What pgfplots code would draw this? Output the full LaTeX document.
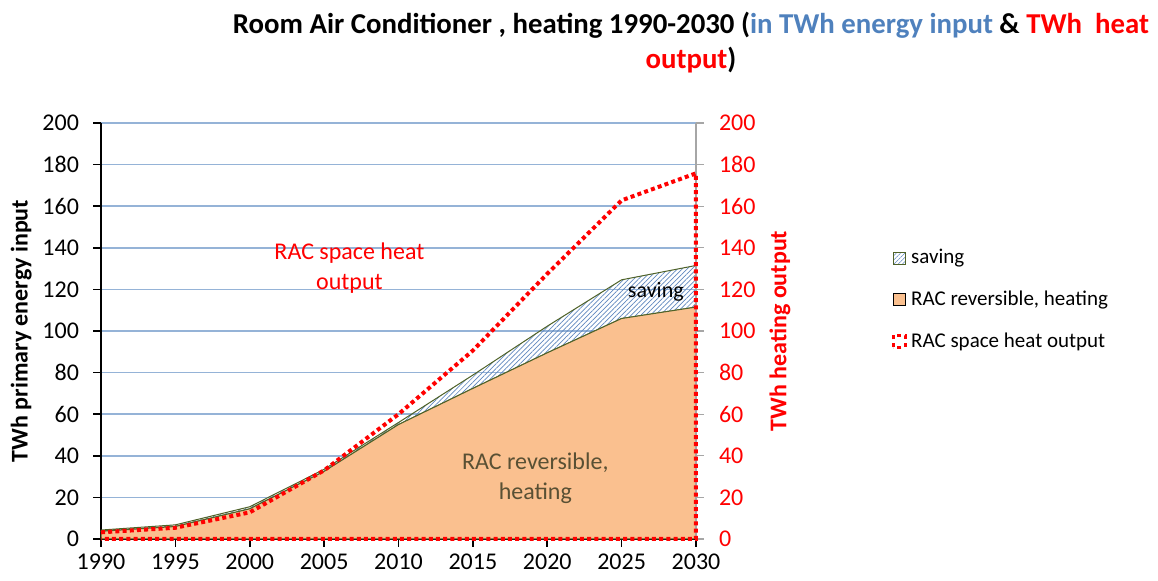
\documentclass[border=0pt]{standalone}
\usepackage{fontspec}
\setmainfont{Carlito}
\usepackage{pgfplots}
\pgfplotsset{compat=1.18}
\usetikzlibrary{patterns.meta}
\definecolor{heatfill}{RGB}{250,192,143}
\definecolor{olivedraw}{RGB}{79,98,40}
\definecolor{hatchblue}{RGB}{95,135,190}
\definecolor{gridblue}{RGB}{149,179,215}
\definecolor{titleblue}{RGB}{79,129,189}
\definecolor{labelolive}{RGB}{89,80,52}
\definecolor{heatred}{RGB}{255,0,0}

\pgfplotstableread{
year heat save out
1990 3.7   0.6  3.2
1995 6.0   0.8  5.4
2000 14.5  1.0  12.8
2005 32.5  1.0  33.0
2010 55.0  1.0  60.0
2015 72.4  6.4  90.6
2020 89.5  12.8 127.5
2025 106.0 18.6 162.8
2030 111.5 20.0 175.8
}\rac

\begin{document}
\begin{tikzpicture}
\useasboundingbox (0pt,0pt) rectangle (579pt,290.5pt);
\node[font=\fontsize{14.4}{17.5}\selectfont\bfseries, align=center] at (345.5pt,269pt)
  {Room Air Conditioner , heating 1990-2030 (\textcolor{titleblue}{in TWh energy input} \& \textcolor{heatred}{TWh\ \ heat}\\\textcolor{heatred}{output})};

\begin{axis}[
  at={(50.5pt,21pt)}, anchor=south west,
  scale only axis, width=297.5pt, height=208pt,
  xmin=1990, xmax=2030, ymin=0, ymax=200,
  xtick={1990,1995,...,2030}, ytick={0,20,...,200},
  axis x line*=bottom, axis y line*=left,
  axis line style={black, line width=1.4pt, -},
  tick align=outside, major tick length=4pt,
  tick style={black, line width=0.8pt},
  ymajorgrids, grid style={gridblue, line width=0.8pt},
  ticklabel style={font=\fontsize{12}{14}\selectfont},
  yticklabel style={xshift=-3.5pt},
  /pgf/number format/assume math mode=true,
  /pgf/number format/1000 sep={},
  ylabel={TWh primary energy input},
  ylabel style={font=\fontsize{12}{14}\selectfont\bfseries, at={(axis description cs:-0.134,0.5)}, anchor=center},
  stack plots=y,
  clip=false,
]
\addplot[fill=heatfill, draw=olivedraw, line width=0.5pt] table[x=year,y=heat]{\rac} \closedcycle;
\addplot[pattern={Lines[angle=45,distance=1.7pt,line width=0.35pt]}, pattern color=hatchblue, draw=olivedraw, line width=0.5pt] table[x=year,y=save]{\rac} \closedcycle;
\end{axis}

\begin{axis}[
  at={(50.5pt,21pt)}, anchor=south west,
  scale only axis, width=297.5pt, height=208pt,
  xmin=1990, xmax=2030, ymin=0, ymax=200,
  ytick={0,20,...,200}, xtick=\empty,
  axis x line=none, axis y line*=right,
  axis line style={gray!70, line width=0.8pt, -},
  tick align=outside, major tick length=4pt,
  tick style={gray!70, line width=0.6pt},
  yticklabel style={font=\fontsize{12}{14}\selectfont, heatred, xshift=4pt},
  /pgf/number format/assume math mode=true,
  ylabel={TWh heating output},
  ylabel style={font=\fontsize{12}{14}\selectfont\bfseries, heatred, at={(axis description cs:1.141,0.5)}, anchor=center},
  clip=false,
  legend style={at={(1.318,0.575)}, anchor=west, draw=none, fill=none,
    font=\fontsize{10.5}{12}\selectfont, row sep=8pt, cells={anchor=west}},
  legend cell align=left,
  legend image code/.code={\draw[#1] (0pt,-3pt) rectangle (6pt,3pt);},
]
\addlegendimage{pattern={Lines[angle=45,distance=1.5pt,line width=0.3pt]}, pattern color=hatchblue, draw=olivedraw, line width=0.4pt}
\addlegendentry{saving}
\addlegendimage{fill=heatfill, draw=none}
\addlegendentry{RAC reversible, heating}
\addlegendimage{draw=heatred, line width=1.8pt, dash pattern=on 2pt off 2pt, fill=none}
\addlegendentry{RAC space heat output}
\addplot[heatred, line width=2pt, dash pattern=on 2pt off 1.6pt] table[x=year,y=out]{\rac} -- (axis cs:2030,0) -- (axis cs:1990,0);
\node[heatred, align=center, font=\fontsize{12}{15}\selectfont] at (axis cs:2006.7,130) {RAC space heat\\output};
\node[black, font=\fontsize{11}{14}\selectfont] at (axis cs:2027.3,119) {saving};
\node[labelolive, align=center, font=\fontsize{12}{15}\selectfont] at (axis cs:2019.2,29) {RAC reversible,\\heating};
\end{axis}
\end{tikzpicture}
\end{document}
